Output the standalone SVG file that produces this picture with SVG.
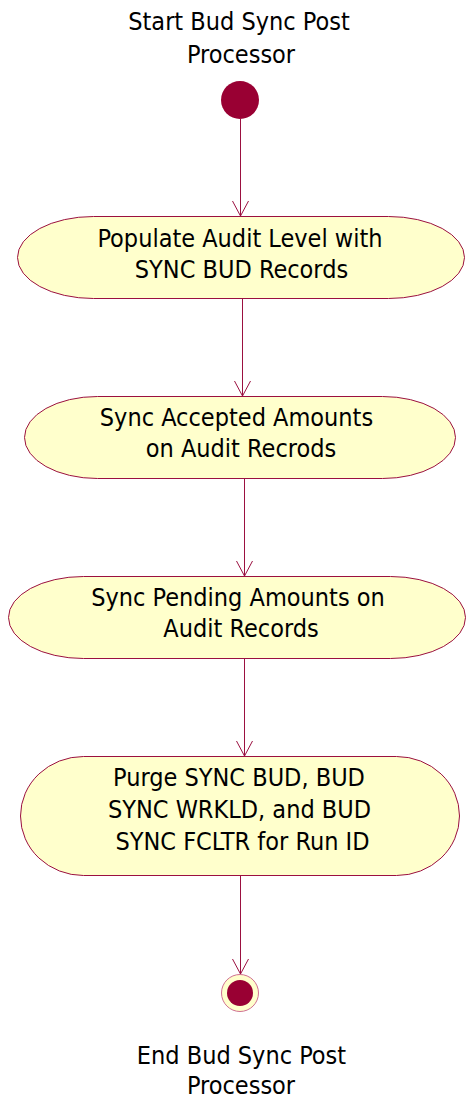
<svg xmlns="http://www.w3.org/2000/svg" width="467" height="1099" viewBox="0 0 467 1099">
  <style>
    .label { font-family: "DejaVu Sans Condensed", "DejaVu Sans", sans-serif; font-size: 25px; fill: #000; text-anchor: middle; }
    .activity { fill: #ffffcc; stroke: #9b1040; stroke-width: 1; }
    .flow { stroke: #9b1040; stroke-width: 1; fill: none; marker-end: url(#open-arrow); }
  </style>
  <defs>
    <marker id="open-arrow" markerUnits="userSpaceOnUse" orient="auto" refX="0" refY="0" markerWidth="20" markerHeight="20" overflow="visible">
      <path d="M-15,-8 L0,0 L-15,8" fill="none" stroke="#9b1040" stroke-width="1"/>
    </marker>
  </defs>

  <!-- initial state -->
  <g id="start">
    <text class="label" x="239" y="30">Start Bud Sync Post</text>
    <text class="label" x="241" y="63">Processor</text>
    <circle cx="240" cy="100" r="19" fill="#990033"/>
  </g>

  <g id="populate-audit">
    <rect class="activity" x="17.5" y="216.5" width="447" height="82" rx="76" ry="41"/>
    <text class="label" x="240" y="247">Populate Audit Level with</text>
    <text class="label" x="241.5" y="278">SYNC BUD Records</text>
  </g>

  <g id="sync-accepted">
    <rect class="activity" x="24.5" y="396.5" width="431" height="82" rx="73" ry="41"/>
    <text class="label" x="236.5" y="426">Sync Accepted Amounts</text>
    <text class="label" x="241" y="457">on Audit Recrods</text>
  </g>

  <g id="sync-pending">
    <rect class="activity" x="8.5" y="576.5" width="457" height="82" rx="75" ry="41"/>
    <text class="label" x="238" y="606">Sync Pending Amounts on</text>
    <text class="label" x="241" y="637">Audit Records</text>
  </g>

  <g id="purge">
    <rect class="activity" x="20.5" y="756.5" width="439" height="119" rx="63" ry="59.5"/>
    <text class="label" x="239" y="786">Purge SYNC BUD, BUD</text>
    <text class="label" x="239.5" y="818">SYNC WRKLD, and BUD</text>
    <text class="label" x="242.5" y="850">SYNC FCLTR for Run ID</text>
  </g>

  <!-- final state -->
  <g id="end">
    <circle cx="240" cy="993" r="18.5" fill="#ffffcc" stroke="#d07090" stroke-width="1"/>
    <circle cx="240" cy="993" r="13" fill="#990033"/>
    <text class="label" x="241.5" y="1064">End Bud Sync Post</text>
    <text class="label" x="241" y="1094">Processor</text>
  </g>

  <g id="connectors">
    <line class="flow" x1="240.5" y1="119" x2="240.5" y2="216"/>
    <line class="flow" x1="242.5" y1="299" x2="242.5" y2="396"/>
    <line class="flow" x1="244.5" y1="479" x2="244.5" y2="576"/>
    <line class="flow" x1="244.5" y1="659" x2="244.5" y2="756"/>
    <line class="flow" x1="240.5" y1="876" x2="240.5" y2="974"/>
  </g>
</svg>
